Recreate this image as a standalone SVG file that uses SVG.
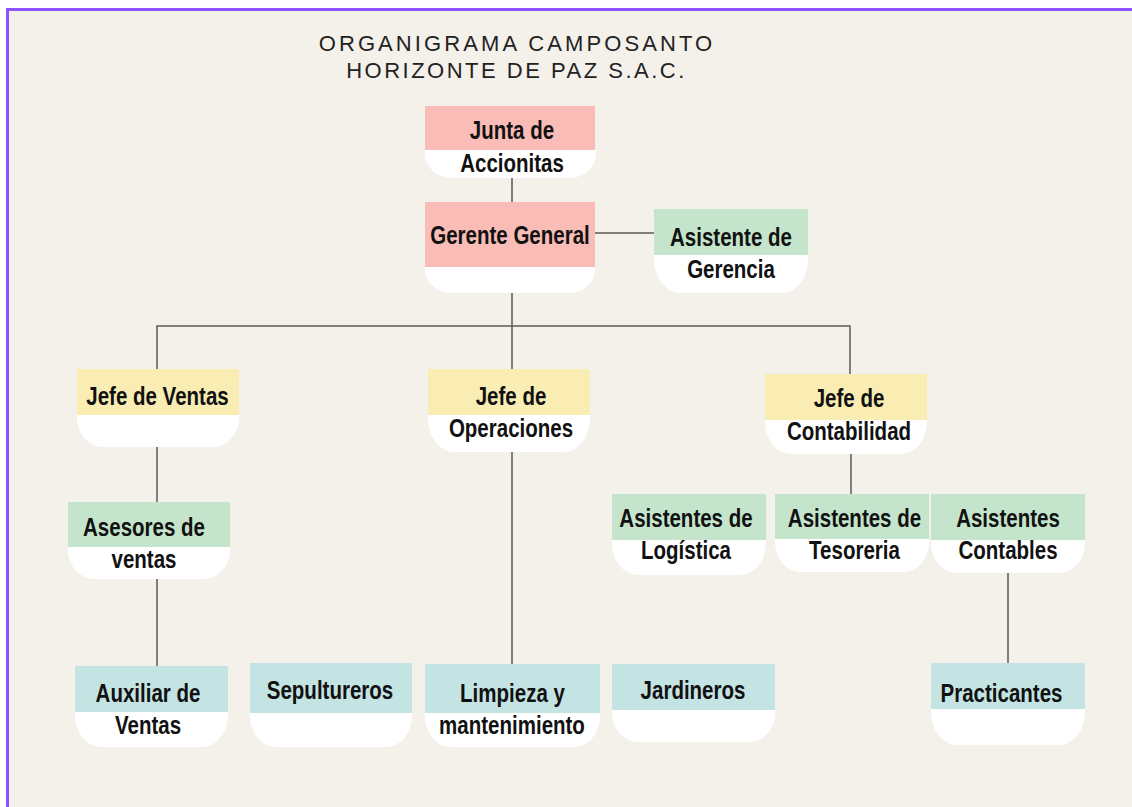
<svg xmlns="http://www.w3.org/2000/svg" width="1132" height="807" viewBox="0 0 1132 807">
<style>
.bg{fill:#F4F0EA;stroke:#8C52FF;stroke-width:3}
.pink{fill:#F9BCB6}
.yellow{fill:#F9EDB4}
.green{fill:#C4E5CB}
.cyan{fill:#C3E4E3}
.white{fill:#FFFFFF}
.t{font-family:"Liberation Sans",Arial,sans-serif;font-size:25px;font-weight:bold;fill:#111;text-anchor:middle}
.title{font-family:"Liberation Sans","DejaVu Sans",sans-serif;font-size:22px;letter-spacing:3.1px;fill:#222;text-anchor:middle}
.conn{fill:none;stroke:#5A5A5A;stroke-width:1.5}
</style>
<rect x="0" y="0" width="1132" height="807" fill="#FFFFFF"/>
<rect class="bg" x="7.5" y="9.5" width="1140" height="820"/>
<g id="title">
<text class="title" x="517" y="51">ORGANIGRAMA CAMPOSANTO</text>
<text class="title" x="516.5" y="78" style="letter-spacing:2.5px">HORIZONTE DE PAZ S.A.C.</text>
</g>
<g id="connectors">
<path class="conn" d="M512 178V202"/>
<path class="conn" d="M595 233H654"/>
<path class="conn" d="M512 293V369"/>
<path class="conn" d="M157 369V326H850V374"/>
<path class="conn" d="M157 447V502"/>
<path class="conn" d="M157 579V666"/>
<path class="conn" d="M512 452V664"/>
<path class="conn" d="M851 454V494"/>
<path class="conn" d="M1008 573V663"/>
</g>
<g id="junta">
<path class="white" d="M425 150H596V154A27 24 0 0 1 569 178H451A27 24 0 0 1 425 154Z"/>
<rect class="pink" x="425" y="106" width="170" height="44"/>
<text class="t" transform="translate(512 139) scale(0.82 1)">Junta de</text>
<text class="t" transform="translate(512 172) scale(0.82 1)">Accionitas</text>
</g>
<g id="gerente">
<path class="white" d="M425 267H595V269A26 24 0 0 1 569 293H451A26 24 0 0 1 425 269Z"/>
<rect class="pink" x="425" y="202" width="170" height="65"/>
<text class="t" transform="translate(510 244) scale(0.82 1)">Gerente General</text>
</g>
<g id="asistente-gerencia">
<path class="white" d="M654 255H808V259A26 34 0 0 1 782 293H680A26 34 0 0 1 654 259Z"/>
<rect class="green" x="654" y="209" width="154" height="46"/>
<text class="t" transform="translate(731 246) scale(0.82 1)">Asistente de</text>
<text class="t" transform="translate(731 278) scale(0.82 1)">Gerencia</text>
</g>
<g id="jefe-ventas">
<path class="white" d="M77 415H239V418A26 29 0 0 1 213 447H103A26 29 0 0 1 77 418Z"/>
<rect class="yellow" x="77" y="369" width="162" height="46"/>
<text class="t" transform="translate(157.5 405) scale(0.82 1)">Jefe de Ventas</text>
</g>
<g id="jefe-operaciones">
<path class="white" d="M428 415H590V418A26 34 0 0 1 564 452H454A26 34 0 0 1 428 418Z"/>
<rect class="yellow" x="428" y="369" width="162" height="46"/>
<text class="t" transform="translate(511 405) scale(0.82 1)">Jefe de</text>
<text class="t" transform="translate(511 437) scale(0.82 1)">Operaciones</text>
</g>
<g id="jefe-contabilidad">
<path class="white" d="M765 420H927V422A26 32 0 0 1 901 454H791A26 32 0 0 1 765 422Z"/>
<rect class="yellow" x="765" y="374" width="162" height="46"/>
<text class="t" transform="translate(849 407) scale(0.82 1)">Jefe de</text>
<text class="t" transform="translate(849 440) scale(0.82 1)">Contabilidad</text>
</g>
<g id="asesores-ventas">
<path class="white" d="M68 547H230V550A26 29 0 0 1 204 579H94A26 29 0 0 1 68 550Z"/>
<rect class="green" x="68" y="502" width="162" height="45"/>
<text class="t" transform="translate(144 536) scale(0.82 1)">Asesores de</text>
<text class="t" transform="translate(144 568) scale(0.82 1)">ventas</text>
</g>
<g id="asistentes-logistica">
<path class="white" d="M612 540H766V543A26 32 0 0 1 740 575H638A26 32 0 0 1 612 543Z"/>
<rect class="green" x="612" y="494" width="154" height="46"/>
<text class="t" transform="translate(686 527) scale(0.82 1)">Asistentes de</text>
<text class="t" transform="translate(686 559) scale(0.82 1)">Logística</text>
</g>
<g id="asistentes-tesoreria">
<path class="white" d="M775 539H929V542A26 30 0 0 1 903 572H801A26 30 0 0 1 775 542Z"/>
<rect class="green" x="775" y="494" width="154" height="45"/>
<text class="t" transform="translate(854.5 527) scale(0.82 1)">Asistentes de</text>
<text class="t" transform="translate(854.5 559) scale(0.82 1)">Tesoreria</text>
</g>
<g id="asistentes-contables">
<path class="white" d="M931 540H1085V543A26 30 0 0 1 1059 573H957A26 30 0 0 1 931 543Z"/>
<rect class="green" x="931" y="494" width="154" height="46"/>
<text class="t" transform="translate(1008 527) scale(0.82 1)">Asistentes</text>
<text class="t" transform="translate(1008 559) scale(0.82 1)">Contables</text>
</g>
<g id="auxiliar-ventas">
<path class="white" d="M75 712H228V715A26 32 0 0 1 202 747H101A26 32 0 0 1 75 715Z"/>
<rect class="cyan" x="75" y="666" width="153" height="46"/>
<text class="t" transform="translate(148 702) scale(0.82 1)">Auxiliar de</text>
<text class="t" transform="translate(148 734) scale(0.82 1)">Ventas</text>
</g>
<g id="sepultureros">
<path class="white" d="M250 713H412V716A26 31 0 0 1 386 747H276A26 31 0 0 1 250 716Z"/>
<rect class="cyan" x="250" y="663" width="162" height="50"/>
<text class="t" transform="translate(330 699) scale(0.82 1)">Sepultureros</text>
</g>
<g id="limpieza">
<path class="white" d="M425 713H600V716A26 31 0 0 1 574 747H451A26 31 0 0 1 425 716Z"/>
<rect class="cyan" x="425" y="664" width="175" height="49"/>
<text class="t" transform="translate(512.5 702) scale(0.82 1)">Limpieza y</text>
<text class="t" transform="translate(512 734) scale(0.82 1)">mantenimiento</text>
</g>
<g id="jardineros">
<path class="white" d="M612 710H775V713A26 29 0 0 1 749 742H638A26 29 0 0 1 612 713Z"/>
<rect class="cyan" x="612" y="664" width="163" height="46"/>
<text class="t" transform="translate(693 699) scale(0.82 1)">Jardineros</text>
</g>
<g id="practicantes">
<path class="white" d="M931 709H1085V712A26 33 0 0 1 1059 745H957A26 33 0 0 1 931 712Z"/>
<rect class="cyan" x="931" y="663" width="154" height="46"/>
<text class="t" transform="translate(1001.5 702) scale(0.82 1)">Practicantes</text>
</g>
</svg>
